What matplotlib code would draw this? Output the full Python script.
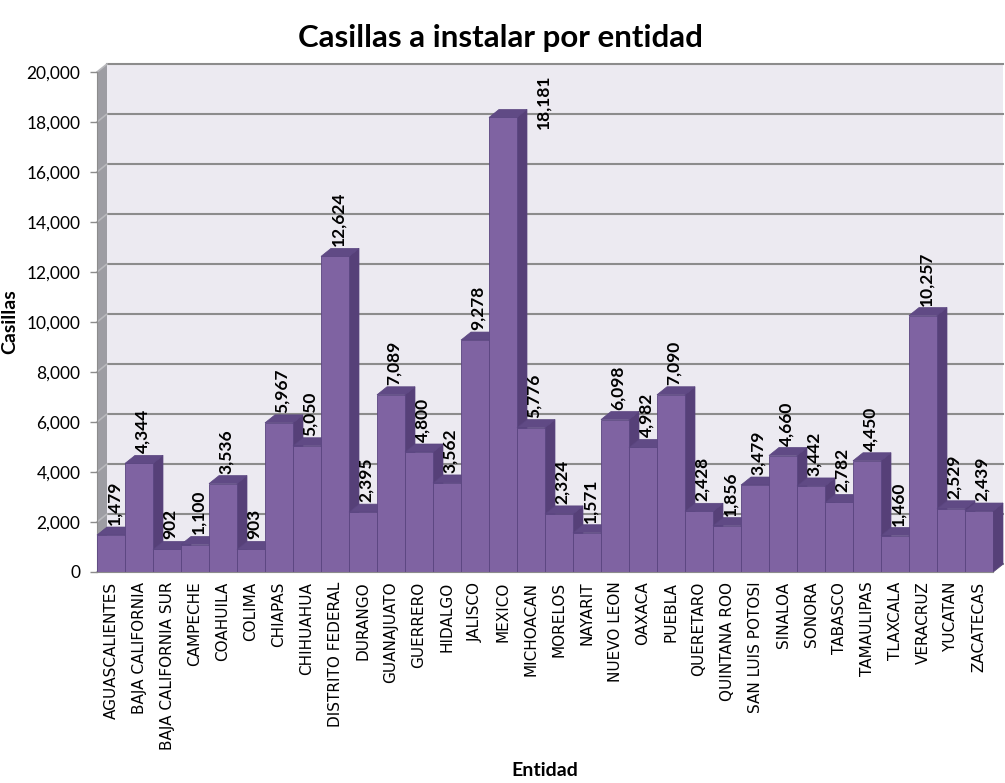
import matplotlib.pyplot as plt
from matplotlib.patches import Polygon

entidades = ['AGUASCALIENTES', 'BAJA CALIFORNIA', 'BAJA CALIFORNIA SUR', 'CAMPECHE',
             'COAHUILA', 'COLIMA', 'CHIAPAS', 'CHIHUAHUA', 'DISTRITO FEDERAL', 'DURANGO',
             'GUANAJUATO', 'GUERRERO', 'HIDALGO', 'JALISCO', 'MEXICO', 'MICHOACAN',
             'MORELOS', 'NAYARIT', 'NUEVO LEON', 'OAXACA', 'PUEBLA', 'QUERETARO',
             'QUINTANA ROO', 'SAN LUIS POTOSI', 'SINALOA', 'SONORA', 'TABASCO',
             'TAMAULIPAS', 'TLAXCALA', 'VERACRUZ', 'YUCATAN', 'ZACATECAS']
casillas = [1479, 4344, 902, 1100, 3536, 903, 5967, 5050, 12624, 2395,
            7089, 4800, 3562, 9278, 18181, 5776, 2324, 1571, 6098, 4982,
            7090, 2428, 1856, 3479, 4660, 3442, 2782, 4450, 1460, 10257,
            2529, 2439]
y_ticks = list(range(0, 20001, 2000))

front_c = '#7F63A2'
top_c = '#604A85'
side_c = '#564078'
edge_c = '#5A4580'
grid_c = '#8C8C8C'

fig = plt.figure(figsize=(10.05, 7.83), dpi=100)
ax = fig.add_axes([97 / 1005, 211 / 783, 896 / 1005, 500 / 783])
n = len(entidades)
ax.set_xlim(-0.5, n - 0.5)
ax.set_ylim(0, 20000)

# depth of the fake 3d: 10 px right, 8 px up, in data units
px_cat = 896 / n
ddx = 10 / px_cat
ddy = 8 * 20000 / 500

x0, x1 = -0.5, n - 0.5
# back wall
ax.add_patch(Polygon([(x0 + ddx, ddy), (x1 + ddx, ddy), (x1 + ddx, 20000 + ddy), (x0 + ddx, 20000 + ddy)],
                     closed=True, fc='#ECEAF1', ec='none', zorder=0, clip_on=False))
# left wall
ax.add_patch(Polygon([(x0, 0), (x0 + ddx, ddy), (x0 + ddx, 20000 + ddy), (x0, 20000)],
                     closed=True, fc='#9D9DA3', ec='none', zorder=0.5, clip_on=False))
# floor
ax.add_patch(Polygon([(x0, 0), (x1, 0), (x1 + ddx, ddy), (x0 + ddx, ddy)],
                     closed=True, fc='#A6A6A6', ec='#8C8C8C', lw=0.8, zorder=0.5, clip_on=False))

# gridlines on the back wall and the left wall
for t in y_ticks:
    ax.plot([x0 + ddx, x1 + ddx], [t + ddy, t + ddy], color=grid_c, lw=1.5, zorder=1, clip_on=False)
    ax.plot([x0, x0 + ddx], [t, t + ddy], color='#B8B8BC', lw=1.2, zorder=1, clip_on=False)

bars = ax.bar(range(n), casillas, width=1.0, color=front_c, edgecolor=edge_c, linewidth=0.6)
for i, (b, v) in enumerate(zip(bars, casillas)):
    xl, xr = i - 0.5, i + 0.5
    ax.add_patch(Polygon([(xr, 0), (xr, v), (xr + ddx, v + ddy), (xr + ddx, ddy)],
                         closed=True, fc=side_c, ec=edge_c, lw=0.5, zorder=3 + 3 * i, clip_on=False))
    ax.add_patch(Polygon([(xl, v), (xr, v), (xr + ddx, v + ddy), (xl + ddx, v + ddy)],
                         closed=True, fc=top_c, ec=edge_c, lw=0.5, zorder=4 + 3 * i, clip_on=False))
    b.set_zorder(5 + 3 * i)

# data labels (offsets in points; MEXICO moved aside as in the original)
label_offsets = {'MEXICO': (29, -8.6)}
for i, (name, v) in enumerate(zip(entidades, casillas)):
    off = label_offsets.get(name, (2.2, 7.2))
    ax.annotate(f'{v:,}', (i, v), xytext=off, textcoords='offset points',
                rotation=90, ha='center', va='bottom', fontsize=12.5, fontweight='bold',
                family='Lato', zorder=300, annotation_clip=False)

ax.set_yticks(y_ticks, labels=[f'{t:,}' for t in y_ticks], fontfamily='Lato', fontsize=12.5)
ax.tick_params(axis='y', length=5, width=1, color=grid_c, pad=7)
ax.set_xticks(range(n), labels=entidades, rotation=90, fontfamily='DejaVu Sans', fontsize=11)
ax.tick_params(axis='x', length=0, pad=7)

for s in ['top', 'right']:
    ax.spines[s].set_visible(False)
ax.spines['left'].set_color(grid_c)
ax.spines['bottom'].set_color(grid_c)
ax.spines['bottom'].set_zorder(200)

fig.text(500 / 1005, 1 - 38 / 783, 'Casillas a instalar por entidad', ha='center', va='center',
         fontsize=22.5, fontweight='bold', family='Lato')
fig.text(10 / 1005, 1 - 322 / 783, 'Casillas', rotation=90, ha='center', va='center',
         fontsize=14, fontweight='bold', family='Lato')
fig.text(545 / 1005, 1 - 770 / 783, 'Entidad', ha='center', va='center',
         fontsize=14, fontweight='bold', family='Lato')

fig.savefig('out.png', dpi=100)
